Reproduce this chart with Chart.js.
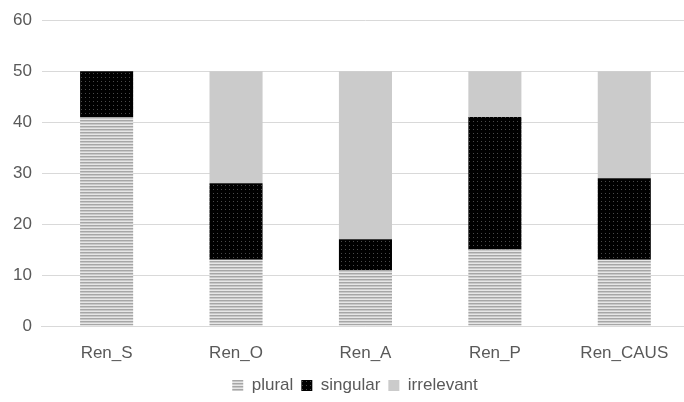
<!DOCTYPE html>
<html>
<head>
<meta charset="utf-8">
<script src="https://cdn.jsdelivr.net/npm/chart.js@4"></script>
<style>
  body { margin: 0; background: #fff; overflow: hidden; }
  #wrap { width: 700px; height: 402px; }
</style>
</head>
<body>
<div id="wrap"><canvas id="barChart"></canvas></div>
<script>
const categories = ['Ren_S', 'Ren_O', 'Ren_A', 'Ren_P', 'Ren_CAUS'];
const plural = [41, 13, 11, 15, 13];
const singular = [9, 15, 6, 26, 16];
const irrelevant = [0, 22, 33, 9, 21];
const yTicks = [0, 10, 20, 30, 40, 50, 60];

// striped fill for plural
function stripes() {
  const c = document.createElement('canvas');
  c.width = 4; c.height = 3;
  const g = c.getContext('2d');
  g.fillStyle = '#e6e6e6'; g.fillRect(0, 0, 4, 3);
  g.fillStyle = '#a6a6a6'; g.fillRect(0, 0, 4, 1);
  g.fillStyle = '#c8c8c8'; g.fillRect(0, 1, 4, 1);
  return g.createPattern(c, 'repeat');
}

// dotted black fill for singular
function dots() {
  const c = document.createElement('canvas');
  c.width = 4; c.height = 4;
  const g = c.getContext('2d');
  g.fillStyle = '#000'; g.fillRect(0, 0, 4, 4);
  g.fillStyle = '#4a4a4a'; g.fillRect(1, 1, 1, 1);
  return g.createPattern(c, 'repeat');
}

const family = '"Liberation Sans", Arial, sans-serif';
const font = { family: family, size: 17 };
const tightFont = { family: family, size: 17, lineHeight: 1 };

// short legend box, drawn a little up and right
const legendTweak = {
  id: 'legendTweak',
  beforeInit(chart) {
    const legend = chart.legend;
    const fit = legend.fit;
    legend.fit = function () {
      fit.call(this);
      this.height = 29;
    };
    const draw = legend.draw;
    legend.draw = function () {
      const ctx = this.ctx;
      ctx.save();
      ctx.translate(9, -4);
      draw.call(this);
      ctx.restore();
    };
  },
};

new Chart(document.getElementById('barChart'), {
  type: 'bar',
  data: {
    labels: categories,
    datasets: [
      { label: 'plural', data: plural, backgroundColor: stripes() },
      { label: 'singular', data: singular, backgroundColor: dots() },
      { label: 'irrelevant', data: irrelevant, backgroundColor: '#cbcbcb' },
    ],
  },
  plugins: [legendTweak],
  options: {
    responsive: true,
    maintainAspectRatio: false,
    animation: false,
    layout: { padding: { top: 3, left: 3, right: 11, bottom: 0 } },
    datasets: { bar: { barPercentage: 0.41, categoryPercentage: 1 } },
    scales: {
      x: {
        stacked: true,
        grid: { display: false },
        border: { color: '#d9d9d9' },
        ticks: { color: '#595959', font: tightFont, padding: 11 },
      },
      y: {
        stacked: true,
        min: 0,
        max: 60,
        afterBuildTicks: axis => { axis.ticks = yTicks.map(v => ({ value: v })); },
        grid: { color: '#d9d9d9', drawTicks: false },
        border: { display: false },
        ticks: { color: '#595959', font: font, padding: 10 },
      },
    },
    plugins: {
      tooltip: { enabled: false },
      legend: {
        position: 'bottom',
        labels: { color: '#595959', font: tightFont, boxWidth: 11, boxHeight: 11, padding: 8 },
      },
    },
  },
});
</script>
</body>
</html>
